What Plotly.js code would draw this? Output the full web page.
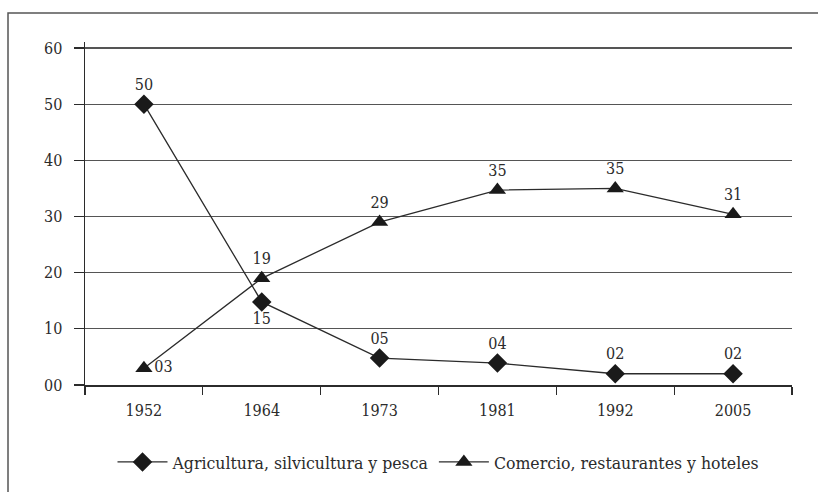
<!DOCTYPE html>
<html>
<head>
<meta charset="utf-8">
<script src="https://cdn.plot.ly/plotly-3.0.1.min.js"></script>
<style>
    body { margin: 0; background: #fff; }
    #chart { width: 818px; height: 492px; }
</style>
</head>
<body>
<div id="chart"></div>
<script>
// Chart data
const years = ['1952', '1964', '1973', '1981', '1992', '2005'];
const agricultura = [50, 14.8, 4.8, 3.9, 2, 2];
const agriculturaLabels = ['50', '15', '05', '04', '02', '02'];
const comercio = [3, 19, 29, 34.7, 35, 30.4];
const comercioLabels = ['03', '19', '29', '35', '35', '31'];
const yTicks = [0, 10, 20, 30, 40, 50, 60];
const yTickText = ['00', '10', '20', '30', '40', '50', '60'];

const serif = 'DejaVu Serif Condensed, DejaVu Serif';
const ink = '#2b2b2b';

const traces = [
    {
        x: years,
        y: agricultura,
        name: 'Agricultura, silvicultura y pesca',
        type: 'scatter',
        mode: 'lines+markers+text',
        text: agriculturaLabels,
        textposition: ['top center', 'bottom center', 'top center', 'top center', 'top center', 'top center'],
        textfont: { family: serif, size: 16, color: ink },
        line: { color: ink, width: 1.3 },
        marker: { symbol: 'diamond', size: 15, color: '#1a1a1a' },
        cliponaxis: false
    },
    {
        x: years,
        y: comercio,
        name: 'Comercio, restaurantes y hoteles',
        type: 'scatter',
        mode: 'lines+markers+text',
        text: comercioLabels,
        textposition: ['middle right', 'top center', 'top center', 'top center', 'top center', 'top center'],
        textfont: { family: serif, size: 16, color: ink },
        line: { color: ink, width: 1.3 },
        marker: { symbol: 'triangle-up', size: 15, color: '#1a1a1a' },
        cliponaxis: false
    }
];

const layout = {
    width: 818,
    height: 492,
    margin: { l: 85, r: 26, t: 42, b: 107 },
    paper_bgcolor: '#fff',
    plot_bgcolor: '#fff',
    font: { family: serif, size: 16, color: ink },
    showlegend: true,
    legend: {
        orientation: 'h',
        x: 0.5,
        xanchor: 'center',
        y: -0.2245,
        yanchor: 'middle',
        font: { family: serif, size: 17.5, color: ink },
        itemwidth: 50,
        tracegroupgap: 0
    },
    xaxis: {
        type: 'category',
        range: [-0.5, 5.5],
        showgrid: false,
        showline: true,
        linecolor: ink,
        linewidth: 1.5,
        ticks: 'outside',
        tickson: 'boundaries',
        ticklen: 8,
        tickcolor: ink,
        tickwidth: 1.3,
        ticklabelstandoff: 10,
        tickfont: { family: serif, size: 16, color: ink },
        zeroline: false,
        fixedrange: true
    },
    yaxis: {
        range: [0, 61.07],
        tickvals: yTicks,
        ticktext: yTickText,
        showgrid: true,
        gridcolor: '#555',
        gridwidth: 1.3,
        showline: true,
        linecolor: ink,
        linewidth: 1.5,
        ticks: 'outside',
        ticklen: 10,
        tickcolor: ink,
        tickwidth: 1.3,
        ticklabelstandoff: 8,
        tickfont: { family: serif, size: 16, color: ink },
        zeroline: false,
        fixedrange: true
    },
    shapes: [
        {
            type: 'rect',
            xref: 'paper',
            yref: 'paper',
            x0: -0.1089,
            x1: 1.1,
            y0: -0.6,
            y1: 1.0845,
            line: { color: '#555', width: 1.5 },
            layer: 'below'
        }
    ]
};

Plotly.newPlot('chart', traces, layout, { displayModeBar: false, staticPlot: true });
</script>
</body>
</html>
